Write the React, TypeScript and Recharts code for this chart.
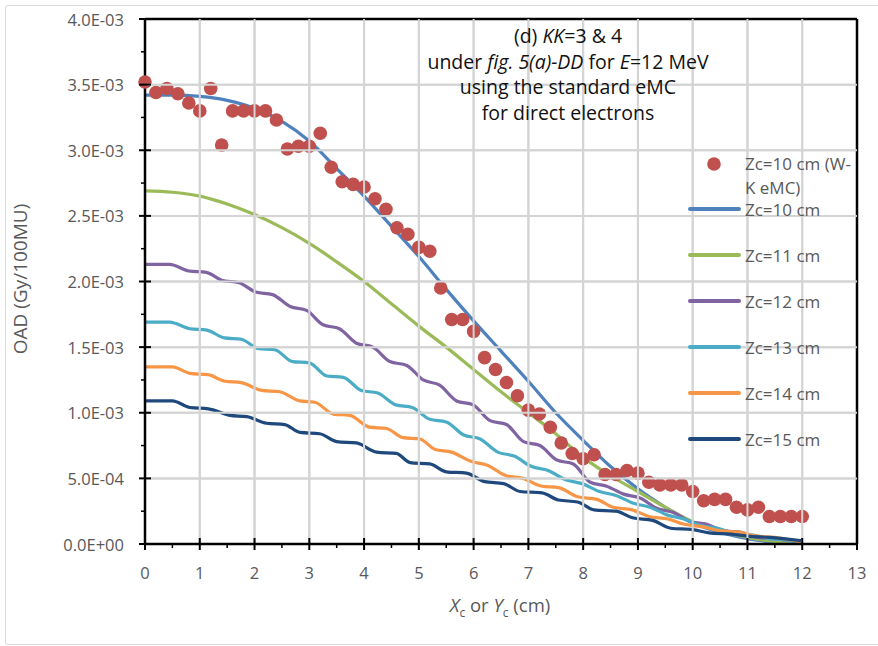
import {
  ComposedChart,
  Line,
  Scatter,
  XAxis,
  YAxis,
  CartesianGrid,
  ReferenceLine,
} from 'recharts'

// OAD in units of 1E-03 Gy/100MU, x = Xc or Yc in cm
const wkEmcZc10: [number, number][] = [
  [0, 3.52], [0.2, 3.44], [0.4, 3.47], [0.6, 3.43], [0.8, 3.36], [1.0, 3.3], [1.2, 3.47],
  [1.4, 3.04], [1.6, 3.3], [1.8, 3.3], [2.0, 3.3], [2.2, 3.3], [2.4, 3.23], [2.6, 3.01],
  [2.8, 3.03], [3.0, 3.03], [3.2, 3.13], [3.4, 2.87], [3.6, 2.76], [3.8, 2.74], [4.0, 2.72],
  [4.2, 2.63], [4.4, 2.55], [4.6, 2.41], [4.8, 2.36], [5.0, 2.26], [5.2, 2.23], [5.4, 1.95],
  [5.6, 1.71], [5.8, 1.71], [6.0, 1.62], [6.2, 1.42], [6.4, 1.33], [6.6, 1.23], [6.8, 1.13],
  [7.0, 1.02], [7.2, 0.99], [7.4, 0.89], [7.6, 0.77], [7.8, 0.69], [8.0, 0.65], [8.2, 0.68],
  [8.4, 0.53], [8.6, 0.53], [8.8, 0.56], [9.0, 0.54], [9.2, 0.47], [9.4, 0.45], [9.6, 0.45],
  [9.8, 0.45], [10.0, 0.4], [10.2, 0.33], [10.4, 0.34], [10.6, 0.34], [10.8, 0.28], [11.0, 0.26],
  [11.2, 0.28], [11.4, 0.21], [11.6, 0.21], [11.8, 0.21], [12.0, 0.21],
]

const zc10: [number, number][] = [
  [0, 3.42], [0.5, 3.42], [1, 3.41], [1.5, 3.38], [2, 3.32], [2.5, 3.22], [3, 3.07], [3.5, 2.86],
  [4, 2.65], [4.5, 2.42], [5, 2.19], [5.5, 1.94], [6, 1.7], [6.5, 1.47], [7, 1.24], [7.5, 1.0],
  [8, 0.79], [8.5, 0.59], [9, 0.42], [9.5, 0.28], [10, 0.16], [10.5, 0.09], [11, 0.04],
  [11.5, 0.015], [12, 0.005],
]

const zc11: [number, number][] = [
  [0, 2.69], [0.5, 2.68], [1, 2.65], [1.5, 2.59], [2, 2.51], [2.5, 2.41], [3, 2.29], [3.5, 2.15],
  [4, 2.0], [4.5, 1.83], [5, 1.66], [5.5, 1.5], [6, 1.33], [6.5, 1.16], [7, 1.0], [7.5, 0.84],
  [8, 0.66], [8.5, 0.52], [9, 0.4], [9.5, 0.28], [10, 0.17], [10.5, 0.1], [11, 0.05],
  [11.5, 0.02], [12, 0.01],
]

const zc12: [number, number][] = [
  [0, 2.13], [0.45, 2.13], [0.8, 2.08], [1.12, 2.07], [1.4, 2.01], [1.72, 1.99], [2.02, 1.92],
  [2.33, 1.9], [2.65, 1.81], [2.95, 1.78], [3.25, 1.67], [3.55, 1.64], [3.86, 1.53], [4.16, 1.5],
  [4.47, 1.39], [4.78, 1.36], [5.08, 1.25], [5.38, 1.21], [5.69, 1.09], [5.99, 1.06], [6.3, 0.94],
  [6.6, 0.91], [6.91, 0.78], [7.21, 0.75], [7.52, 0.64], [7.82, 0.61], [8.13, 0.47], [8.43, 0.44],
  [8.74, 0.38], [9.04, 0.35], [9.35, 0.27], [9.65, 0.24], [9.96, 0.17], [10.26, 0.15],
  [10.57, 0.1], [10.87, 0.09], [11.18, 0.05], [11.48, 0.04], [12, 0.01],
]

const zc13: [number, number][] = [
  [0, 1.69], [0.45, 1.69], [0.82, 1.64], [1.13, 1.63], [1.45, 1.57], [1.76, 1.56], [2.06, 1.49],
  [2.37, 1.48], [2.69, 1.39], [3.0, 1.38], [3.32, 1.28], [3.62, 1.27], [3.95, 1.17], [4.25, 1.15],
  [4.58, 1.06], [4.88, 1.04], [5.2, 0.95], [5.5, 0.93], [5.82, 0.83], [6.12, 0.8], [6.44, 0.7],
  [6.74, 0.67], [7.06, 0.59], [7.36, 0.56], [7.68, 0.49], [7.98, 0.46], [8.3, 0.4], [8.6, 0.37],
  [8.92, 0.31], [9.22, 0.28], [9.54, 0.22], [9.84, 0.19], [10.16, 0.14], [10.46, 0.12],
  [10.78, 0.08], [11.08, 0.07], [11.4, 0.04], [11.7, 0.03], [12, 0.01],
]

const zc14: [number, number][] = [
  [0, 1.35], [0.5, 1.35], [0.82, 1.3], [1.15, 1.29], [1.46, 1.24], [1.76, 1.23], [2.13, 1.17],
  [2.46, 1.16], [2.83, 1.09], [3.1, 1.08], [3.44, 0.99], [3.74, 0.98], [4.1, 0.89], [4.41, 0.88],
  [4.71, 0.81], [5.02, 0.8], [5.3, 0.72], [5.6, 0.7], [5.95, 0.63], [6.25, 0.6], [6.6, 0.52],
  [6.9, 0.5], [7.25, 0.44], [7.55, 0.43], [7.9, 0.36], [8.25, 0.34], [8.55, 0.28], [8.9, 0.26],
  [9.2, 0.21], [9.55, 0.19], [9.85, 0.15], [10.2, 0.13], [10.5, 0.1], [10.85, 0.09],
  [11.15, 0.06], [11.5, 0.05], [12, 0.015],
]

const zc15: [number, number][] = [
  [0, 1.09], [0.5, 1.09], [0.82, 1.04], [1.16, 1.03], [1.55, 0.98], [1.86, 0.97], [2.22, 0.92],
  [2.55, 0.91], [2.83, 0.85], [3.19, 0.84], [3.5, 0.78], [3.86, 0.77], [4.23, 0.7], [4.59, 0.69],
  [4.84, 0.62], [5.2, 0.61], [5.5, 0.55], [5.87, 0.54], [6.2, 0.475], [6.55, 0.46], [6.85, 0.4],
  [7.25, 0.39], [7.55, 0.335], [7.9, 0.32], [8.2, 0.26], [8.6, 0.25], [8.9, 0.2], [9.27, 0.18],
  [9.6, 0.12], [10.0, 0.11], [10.3, 0.085], [10.7, 0.075], [11.0, 0.06], [11.4, 0.05], [12, 0.025],
]

const xTicks = [0, 0.5, 1, 1.5, 2, 2.5, 3, 3.5, 4, 4.5, 5, 5.5, 6, 6.5, 7, 7.5, 8, 8.5, 9, 9.5, 10, 10.5, 11, 11.5, 12, 12.5, 13]
const xMajor = [0, 1, 2, 3, 4, 5, 6, 7, 8, 9, 10, 11, 12, 13]
const xTickLabels = ['0', '1', '2', '3', '4', '5', '6', '7', '8', '9', '10', '11', '12', '13']

const yTicks = [0, 0.25, 0.5, 0.75, 1, 1.25, 1.5, 1.75, 2, 2.25, 2.5, 2.75, 3, 3.25, 3.5, 3.75, 4]
const yMajor = [0, 0.5, 1, 1.5, 2, 2.5, 3, 3.5, 4]
const yTickLabels = ['0.0E+00', '5.0E-04', '1.0E-03', '1.5E-03', '2.0E-03', '2.5E-03', '3.0E-03', '3.5E-03', '4.0E-03']

const gridX = [1, 2, 3, 4, 5, 6, 7, 8, 9, 10, 11, 12]
const gridY = [0.5, 1, 1.5, 2, 2.5, 3, 3.5]

const lines = [
  { name: 'Zc=10 cm', color: '#4F81BD', pts: zc10 },
  { name: 'Zc=11 cm', color: '#9BBB59', pts: zc11 },
  { name: 'Zc=12 cm', color: '#8064A2', pts: zc12 },
  { name: 'Zc=13 cm', color: '#4BACC6', pts: zc13 },
  { name: 'Zc=14 cm', color: '#F79646', pts: zc14 },
  { name: 'Zc=15 cm', color: '#1F497D', pts: zc15 },
]
const dotsName = 'Zc=10 cm (W-\nK eMC)'
const dotsColor = '#C0504D'

const FONT = '"Open Sans", "Noto Sans", sans-serif'
const GREY = '#595959'
const GRID = '#D4D4D4'
const X_MAX = 13
const Y_MAX = 4

// chart box and plot box
const W = 878
const H = 646
const Y_AXIS_W = 145
const X_AXIS_H = 102
const TOP = 19
const RIGHT = 21
const PLOT_W = W - Y_AXIS_W - RIGHT
const PLOT_H = H - TOP - X_AXIS_H

const toRows = (pts: [number, number][]) => pts.map(([x, y]) => ({ x, y }))

function gridXCoords(props: any) {
  const sc = props?.xAxis?.scale
  if (typeof sc === 'function') return gridX.map((v) => sc(v))
  const o = props.offset
  return gridX.map((v) => o.left + (o.width * v) / X_MAX)
}
function gridYCoords(props: any) {
  const sc = props?.yAxis?.scale
  if (typeof sc === 'function') return gridY.map((v) => sc(v))
  const o = props.offset
  return gridY.map((v) => o.top + o.height * (1 - v / Y_MAX))
}

// y ticks: major ticks cross the axis and carry a label and a gridline, minor ones sit outside
function YTick(props: any) {
  const { x, y, payload } = props
  const i = yMajor.indexOf(payload.value)
  if (i < 0) return <line x1={x - 4} x2={x} y1={y} y2={y} stroke="#000" strokeWidth={1.5} />
  const inner = gridY.includes(payload.value)
  return (
    <g>
      {inner && <line x1={x + 2} x2={x + PLOT_W} y1={y} y2={y} stroke={GRID} strokeWidth={2} />}
      <line x1={x - 6} x2={x + 6} y1={y} y2={y} stroke="#000" strokeWidth={2} />
      <text x={x - 21} y={y} textAnchor="end" dominantBaseline="central" fill={GREY} fontSize={16.5} fontFamily={FONT}>
        {yTickLabels[i]}
      </text>
    </g>
  )
}

function XTick(props: any) {
  const { x, y, payload } = props
  const i = xMajor.indexOf(payload.value)
  if (i < 0) return <line x1={x} x2={x} y1={y} y2={y + 4} stroke="#000" strokeWidth={1.5} />
  const inner = gridX.includes(payload.value)
  return (
    <g>
      {inner && <line x1={x} x2={x} y1={y - 2} y2={y - PLOT_H} stroke={GRID} strokeWidth={2} />}
      <line x1={x} x2={x} y1={y - 6} y2={y + 6} stroke="#000" strokeWidth={2} />
      <text x={x} y={y + 28} textAnchor="middle" dominantBaseline="central" fill={GREY} fontSize={16.5} fontFamily={FONT}>
        {xTickLabels[i]}
      </text>
    </g>
  )
}

function LegendBox() {
  return (
    <div style={{ position: 'absolute', left: 688, top: 152, width: 172, height: 300, fontFamily: FONT, fontSize: 17, color: GREY }}>
      <svg width={56} height={20} style={{ position: 'absolute', left: 0, top: 2 }}>
        <circle cx={26} cy={10} r={6.8} fill={dotsColor} />
      </svg>
      <div style={{ position: 'absolute', left: 57, top: 0, lineHeight: '24px', whiteSpace: 'pre-line' }}>{dotsName}</div>
      {lines.map((l, i) => (
        <div key={l.name} style={{ position: 'absolute', left: 0, top: 45 + i * 46, height: 24, display: 'flex', alignItems: 'center' }}>
          <div style={{ width: 53, height: 3.5, background: l.color, borderRadius: 2, marginRight: 4 }} />
          <span>{l.name}</span>
        </div>
      ))}
    </div>
  )
}

export default function App() {
  return (
    <div style={{ position: 'absolute', left: 0, top: 0, width: W, height: H, background: '#fff', overflow: 'hidden' }}>
      <div style={{ position: 'absolute', left: 5, top: 5, width: 900, height: 638, border: '1px solid #D9D9D9', borderRadius: 3 }} />
      <ComposedChart width={W} height={H} margin={{ top: TOP, right: RIGHT, bottom: 0, left: 0 }}>
        <CartesianGrid
          stroke={GRID}
          strokeWidth={2}
          horizontalCoordinatesGenerator={gridYCoords}
          verticalCoordinatesGenerator={gridXCoords}
        />
        <XAxis
          type="number"
          dataKey="x"
          domain={[0, X_MAX]}
          ticks={xTicks}
          interval={0}
          height={X_AXIS_H}
          tickSize={0}
          tickMargin={0}
          tickLine={false}
          tick={(p: any) => <XTick {...p} />}
          axisLine={{ stroke: '#000', strokeWidth: 2.5 }}
        />
        <YAxis
          type="number"
          dataKey="y"
          domain={[0, Y_MAX]}
          ticks={yTicks}
          interval={0}
          width={Y_AXIS_W}
          tickSize={0}
          tickMargin={0}
          tickLine={false}
          tick={(p: any) => <YTick {...p} />}
          axisLine={{ stroke: '#000', strokeWidth: 2.5 }}
        />
        <ReferenceLine y={Y_MAX} stroke="#000" strokeWidth={2.5} />
        <ReferenceLine x={X_MAX} stroke="#000" strokeWidth={2.5} />
        <Scatter
          name={dotsName}
          data={toRows(wkEmcZc10)}
          dataKey="y"
          fill={dotsColor}
          isAnimationActive={false}
          shape={(p: any) => <circle cx={p.cx} cy={p.cy} r={6.8} fill={dotsColor} />}
        />
        {lines.map((l) => (
          <Line
            key={l.name}
            name={l.name}
            data={toRows(l.pts)}
            dataKey="y"
            type="monotone"
            stroke={l.color}
            strokeWidth={3.2}
            dot={false}
            activeDot={false}
            isAnimationActive={false}
          />
        ))}
      </ComposedChart>
      <LegendBox />
      <div
        style={{
          position: 'absolute', left: 368, top: 23, width: 400, textAlign: 'center',
          fontFamily: FONT, fontSize: 19.5, lineHeight: '25.5px', color: '#111',
        }}
      >
        <div>(d) <i>KK</i>=3 &amp; 4</div>
        <div>under <i>fig. 5(a)-DD</i> for <i>E</i>=12 MeV</div>
        <div>using the standard eMC</div>
        <div>for direct electrons</div>
      </div>
      <div
        style={{
          position: 'absolute', left: 400, top: 592, width: 200, textAlign: 'center',
          fontFamily: FONT, fontSize: 18.5, color: GREY, lineHeight: '26px',
        }}
      >
        <i>X</i><sub style={{ fontSize: 12 }}>c</sub> or <i>Y</i><sub style={{ fontSize: 12 }}>c</sub> (cm)
      </div>
      <div style={{ position: 'absolute', left: 20, top: 279, width: 0, height: 0 }}>
        <div
          style={{
            position: 'absolute', left: -120, top: -13, width: 240, textAlign: 'center',
            transform: 'rotate(-90deg)', fontFamily: FONT, fontSize: 19, color: GREY, lineHeight: '26px',
            whiteSpace: 'nowrap',
          }}
        >
          OAD (Gy/100MU)
        </div>
      </div>
    </div>
  )
}
